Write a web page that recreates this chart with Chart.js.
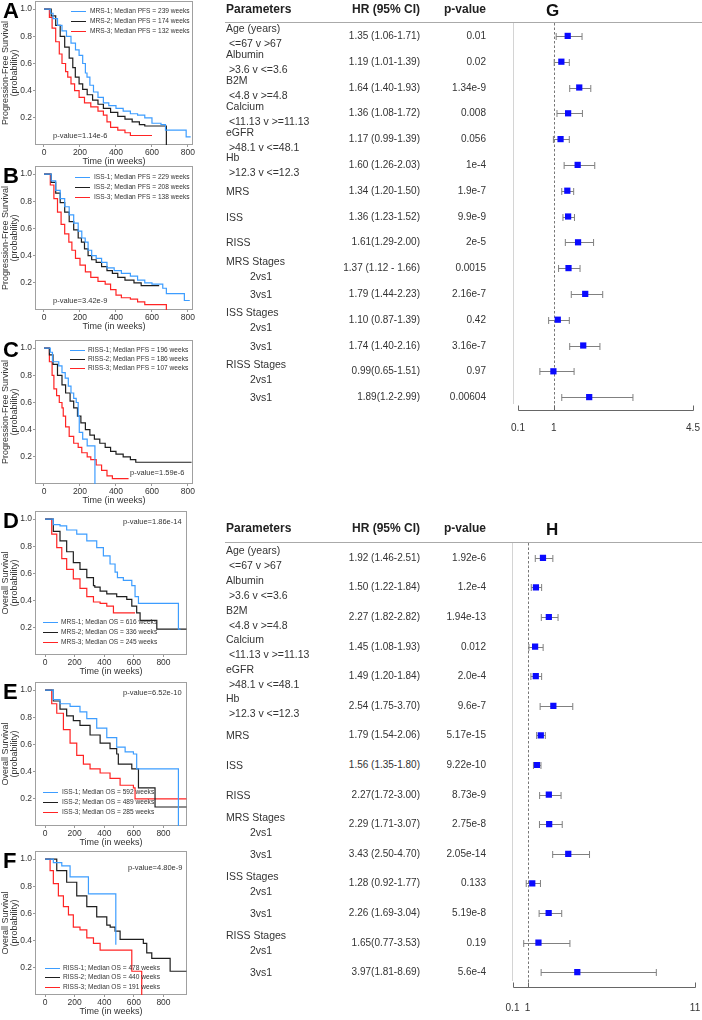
<!DOCTYPE html>
<html>
<head>
<meta charset="utf-8">
<title>Survival curves and hazard ratios</title>
<script src="https://cdn.jsdelivr.net/npm/chart.js@4.4.1/dist/chart.umd.min.js"></script>
<style>
  html, body { margin: 0; padding: 0; background: #fff; }
  body { position: relative; width: 702px; height: 1020px; overflow: hidden;
         font-family: "Liberation Sans", Arial, Helvetica, sans-serif; color: #222; }
  canvas { position: absolute; }
  .txt { position: absolute; white-space: nowrap; line-height: 1; transform: translateY(-50%); }
  .letter { font-size: 22px; font-weight: bold; color: #000; }
  .leg { font-size: 6.6px; color: #333; }
  .legline { position: absolute; width: 15px; height: 0; border-top: 1.3px solid; }
  .pval { font-size: 7.5px; color: #333; }
  .head { font-size: 12px; font-weight: bold; color: #222; }
  .cell { font-size: 10px; color: #333; }
  .name { font-size: 10.5px; color: #333; }
  .hline { position: absolute; height: 0; border-top: 1.5px solid #aaa; }
  .plabel { font-size: 17px; font-weight: bold; color: #111; }
</style>
</head>
<body>
<script>
// survival curves, [weeks, survival probability]
const pfsMRS1 = [[0,1],[25,1],[35,0.97],[50,0.93],[75,0.88],[100,0.84],[125,0.8],[150,0.75],[175,0.7],[195,0.66],[215,0.6],[230,0.53],[239,0.5],[255,0.44],[275,0.39],[300,0.35],[330,0.31],[360,0.29],[400,0.27],[440,0.25],[480,0.23],[520,0.22],[560,0.2],[600,0.16],[650,0.15],[675,0.11],[780,0.11],[790,0.06],[815,0.06]];
const pfsMRS2 = [[0,1],[20,1],[40,0.95],[65,0.88],[90,0.8],[115,0.72],[140,0.64],[160,0.57],[174,0.5],[195,0.45],[215,0.41],[240,0.37],[270,0.33],[300,0.3],[330,0.27],[370,0.24],[410,0.21],[450,0.19],[490,0.17],[530,0.15],[560,0.14],[680,0.14],[680,0]];
const pfsMRS3 = [[0,1],[15,1],[30,0.94],[45,0.86],[65,0.76],[85,0.67],[100,0.6],[120,0.54],[132,0.5],[150,0.45],[170,0.4],[195,0.35],[225,0.31],[260,0.28],[300,0.25],[330,0.22],[350,0.17],[370,0.13],[410,0.11],[450,0.09],[480,0.07],[600,0.07]];

const pfsISS1 = [[0,1],[20,1],[40,0.95],[65,0.88],[90,0.82],[115,0.76],[140,0.7],[165,0.64],[190,0.58],[210,0.53],[229,0.5],[245,0.44],[265,0.4],[290,0.38],[320,0.35],[350,0.31],[390,0.29],[430,0.27],[480,0.25],[520,0.22],[560,0.2],[600,0.19],[660,0.16],[680,0.12],[760,0.12],[780,0.07],[810,0.07]];
const pfsISS2 = [[0,1],[20,1],[40,0.94],[65,0.86],[90,0.79],[115,0.72],[140,0.65],[165,0.59],[190,0.53],[208,0.5],[225,0.45],[245,0.4],[265,0.37],[290,0.35],[320,0.32],[350,0.29],[380,0.27],[410,0.24],[450,0.22],[500,0.2],[540,0.18],[640,0.18]];
const pfsISS3 = [[0,1],[15,1],[35,0.92],[55,0.82],[75,0.72],[95,0.63],[115,0.56],[138,0.5],[155,0.44],[175,0.38],[200,0.33],[230,0.28],[260,0.24],[300,0.21],[340,0.19],[370,0.15],[400,0.11],[430,0.09],[480,0.08],[520,0.06],[560,0.04],[680,0.04],[680,0]];

const pfsRISS1 = [[0,1],[30,1],[35,0.97],[47,0.9],[82,0.87],[100,0.82],[118,0.78],[135,0.72],[150,0.67],[165,0.63],[179,0.6],[190,0.5],[196,0.38],[215,0.33],[240,0.28],[283,0.28],[283,0]];
const pfsRISS2 = [[0,1],[15,1],[30,0.95],[50,0.88],[75,0.8],[100,0.73],[120,0.67],[145,0.61],[165,0.56],[186,0.5],[205,0.45],[230,0.4],[255,0.36],[280,0.33],[310,0.3],[340,0.27],[370,0.24],[400,0.22],[440,0.2],[480,0.18],[510,0.16],[820,0.16]];
const pfsRISS3 = [[0,1],[12,1],[30,0.9],[45,0.8],[55,0.7],[70,0.65],[85,0.6],[100,0.56],[107,0.5],[120,0.42],[140,0.35],[165,0.3],[190,0.27],[210,0.23],[240,0.2],[260,0.18],[290,0.14],[320,0.1],[350,0.06],[380,0.04],[470,0.04]];

const osMRS1 = [[0,1],[10,1],[56,0.96],[101,0.95],[146,0.92],[214,0.89],[282,0.84],[349,0.79],[394,0.73],[439,0.67],[473,0.61],[489,0.57],[529,0.55],[586,0.51],[608,0.43],[631,0.38],[901,0.38],[901,0.19],[915,0.19]];
const osMRS2 = [[0,1],[10,1],[56,0.91],[101,0.84],[146,0.76],[191,0.68],[236,0.63],[282,0.57],[327,0.51],[336,0.5],[372,0.47],[417,0.45],[484,0.43],[552,0.41],[586,0.36],[619,0.31],[642,0.255],[755,0.255],[755,0.19],[955,0.19]];
const osMRS3 = [[0,1],[10,1],[45,0.89],[79,0.79],[113,0.71],[146,0.63],[191,0.56],[236,0.49],[282,0.43],[327,0.39],[372,0.38],[417,0.36],[462,0.31],[608,0.31]];

const osISS1 = [[0,1],[10,1],[56,0.93],[101,0.9],[169,0.88],[236,0.84],[282,0.79],[349,0.72],[417,0.65],[484,0.58],[541,0.545],[597,0.53],[619,0.42],[901,0.42],[901,0]];
const osISS2 = [[0,1],[10,1],[56,0.92],[101,0.86],[146,0.81],[191,0.775],[236,0.74],[304,0.67],[372,0.61],[439,0.57],[484,0.53],[495,0.455],[586,0.42],[631,0.28],[743,0.14],[955,0.14]];
const osISS3 = [[0,1],[10,1],[45,0.9],[79,0.83],[124,0.71],[169,0.61],[214,0.52],[259,0.455],[304,0.42],[372,0.39],[439,0.35],[507,0.3],[597,0.28],[608,0.2],[955,0.2]];

const osRISS1 = [[0,1],[10,1],[56,0.975],[113,0.95],[169,0.87],[293,0.745],[478,0.37]];
const osRISS2 = [[0,1],[10,1],[79,0.915],[146,0.83],[214,0.73],[282,0.65],[349,0.575],[417,0.515],[440,0.5],[473,0.47],[507,0.41],[664,0.38],[687,0.31],[721,0.27],[845,0.175],[955,0.175]];
const osRISS3 = [[0,1],[20,1],[34,0.915],[56,0.82],[90,0.73],[124,0.65],[158,0.59],[191,0.5],[236,0.48],[282,0.42],[327,0.38],[372,0.33],[586,0.175],[653,0.175],[653,0]];

const legendA = ['MRS-1; Median PFS = 239 weeks', 'MRS-2; Median PFS = 174 weeks', 'MRS-3; Median PFS = 132 weeks'];
const legendB = ['ISS-1; Median PFS = 229 weeks', 'ISS-2; Median PFS = 208 weeks', 'ISS-3; Median PFS = 138 weeks'];
const legendC = ['RISS-1; Median PFS = 196 weeks', 'RISS-2; Median PFS = 186 weeks', 'RISS-3; Median PFS = 107 weeks'];
const legendD = ['MRS-1; Median OS = 616 weeks', 'MRS-2; Median OS = 336 weeks', 'MRS-3; Median OS = 245 weeks'];
const legendE = ['ISS-1; Median OS = 592 weeks', 'ISS-2; Median OS = 489 weeks', 'ISS-3; Median OS = 285 weeks'];
const legendF = ['RISS-1; Median OS = 478 weeks', 'RISS-2; Median OS = 440 weeks', 'RISS-3; Median OS = 191 weeks'];
const logrankP = ['p-value=1.14e-6', 'p-value=3.42e-9', 'p-value=1.59e-6', 'p-value=1.86e-14', 'p-value=6.52e-10', 'p-value=4.80e-9'];

const survTicks = [0.2, 0.4, 0.6, 0.8, 1.0];
const weekTicks = [0, 200, 400, 600, 800];

// hazard ratios
const paramNames = ['Age (years)', 'Albumin', 'B2M', 'Calcium', 'eGFR', 'Hb', 'MRS', 'ISS', 'RISS', 'MRS Stages', '', 'ISS Stages', '', 'RISS Stages', ''];
const paramSubs = [' <=67 v >67', ' >3.6 v <=3.6', ' <4.8 v >=4.8', ' <11.13 v >=11.13', ' >48.1 v <=48.1', ' >12.3 v <=12.3', '', '', '', '2vs1', '3vs1', '2vs1', '3vs1', '2vs1', '3vs1'];

const hrG = [1.35, 1.19, 1.64, 1.36, 1.17, 1.60, 1.34, 1.36, 1.61, 1.37, 1.79, 1.10, 1.74, 0.99, 1.89];
const loG = [1.06, 1.01, 1.40, 1.08, 0.99, 1.26, 1.20, 1.23, 1.29, 1.12, 1.44, 0.87, 1.40, 0.65, 1.2];
const hiG = [1.71, 1.39, 1.93, 1.72, 1.39, 2.03, 1.50, 1.52, 2.00, 1.66, 2.23, 1.39, 2.16, 1.51, 2.99];
const hrTextG = ['1.35 (1.06-1.71)', '1.19 (1.01-1.39)', '1.64 (1.40-1.93)', '1.36 (1.08-1.72)', '1.17 (0.99-1.39)', '1.60 (1.26-2.03)', '1.34 (1.20-1.50)', '1.36 (1.23-1.52)', '1.61(1.29-2.00)', '1.37 (1.12 - 1.66)', '1.79 (1.44-2.23)', '1.10 (0.87-1.39)', '1.74 (1.40-2.16)', '0.99(0.65-1.51)', '1.89(1.2-2.99)'];
const pTextG = ['0.01', '0.02', '1.34e-9', '0.008', '0.056', '1e-4', '1.9e-7', '9.9e-9', '2e-5', '0.0015', '2.16e-7', '0.42', '3.16e-7', '0.97', '0.00604'];
const axisTicksG = [0.1, 1, 4.5];

const hrH = [1.92, 1.50, 2.27, 1.45, 1.49, 2.54, 1.79, 1.56, 2.27, 2.29, 3.43, 1.28, 2.26, 1.65, 3.97];
const loH = [1.46, 1.22, 1.82, 1.08, 1.20, 1.75, 1.54, 1.35, 1.72, 1.71, 2.50, 0.92, 1.69, 0.77, 1.81];
const hiH = [2.51, 1.84, 2.82, 1.93, 1.84, 3.70, 2.06, 1.80, 3.00, 3.07, 4.70, 1.77, 3.04, 3.53, 8.69];
const hrTextH = ['1.92 (1.46-2.51)', '1.50 (1.22-1.84)', '2.27 (1.82-2.82)', '1.45 (1.08-1.93)', '1.49 (1.20-1.84)', '2.54 (1.75-3.70)', '1.79 (1.54-2.06)', '1.56 (1.35-1.80)', '2.27(1.72-3.00)', '2.29 (1.71-3.07)', '3.43 (2.50-4.70)', '1.28 (0.92-1.77)', '2.26 (1.69-3.04)', '1.65(0.77-3.53)', '3.97(1.81-8.69)'];
const pTextH = ['1.92e-6', '1.2e-4', '1.94e-13', '0.012', '2.0e-4', '9.6e-7', '5.17e-15', '9.22e-10', '8.73e-9', '2.75e-8', '2.05e-14', '0.133', '5.19e-8', '0.19', '5.6e-4'];
const axisTicksH = [0.1, 1, 11];
const nullHR = 1;

const kmColors = ['#3d9dff', '#1e1e1e', '#ff2424'];

Chart.defaults.font.family = '"Liberation Sans", Arial, Helvetica, sans-serif';

function addText(cls, str, x, y, alignRight) {
  const d = document.createElement('div');
  d.className = 'txt ' + cls;
  d.textContent = str;
  if (alignRight) d.style.right = (702 - x) + 'px';
  else d.style.left = x + 'px';
  d.style.top = y + 'px';
  document.body.appendChild(d);
  return d;
}

const framePlugin = {
  id: 'frame',
  beforeDatasetsDraw(chart) {
    const { ctx, chartArea: a } = chart;
    ctx.save();
    ctx.strokeStyle = '#a0a0a0';
    ctx.lineWidth = 1;
    ctx.strokeRect(Math.round(a.left) + 0.5, Math.round(a.top) + 0.5, Math.round(a.right - a.left) - 1, Math.round(a.bottom - a.top) - 1);
    ctx.restore();
  }
};

function kmPanel(p) {
  const c = document.createElement('canvas');
  c.width = p.w;
  c.height = 170;
  c.style.left = '0px';
  c.style.top = p.top + 'px';
  document.body.appendChild(c);

  new Chart(c, {
    type: 'line',
    data: {
      datasets: p.curves.map((pts, i) => ({
        data: pts.map(q => ({ x: q[0], y: q[1] })),
        borderColor: kmColors[i],
        borderWidth: 1.2,
        pointRadius: 0,
        stepped: 'before',
        fill: false
      }))
    },
    options: {
      responsive: false,
      animation: false,
      layout: { padding: { top: 2, right: p.w - p.right, left: 0, bottom: 0 } },
      plugins: { legend: { display: false }, tooltip: { enabled: false } },
      scales: {
        x: {
          type: 'linear', min: p.xr[0], max: p.xr[1],
          afterBuildTicks: a => { a.ticks = weekTicks.map(v => ({ value: v })); },
          afterFit: a => { a.height = 24; a.paddingLeft = 0; a.paddingRight = 0; },
          ticks: { font: { size: 8.5 }, color: '#333', padding: 1, maxRotation: 0, autoSkip: false },
          grid: { display: true, drawOnChartArea: false, tickLength: 2, color: '#999' },
          border: { display: false },
          title: { display: true, text: 'Time (in weeks)', font: { size: 9 }, color: '#333', padding: { top: 0, bottom: 2 } }
        },
        y: {
          min: 0, max: 1.06,
          afterBuildTicks: a => { a.ticks = survTicks.map(v => ({ value: v })); },
          afterFit: a => { a.width = 35; a.paddingTop = 0; a.paddingBottom = 0; },
          ticks: { font: { size: 8.5 }, color: '#333', padding: 1, autoSkip: false, callback: v => v.toFixed(1) },
          grid: { display: true, drawOnChartArea: false, tickLength: 2, color: '#999' },
          border: { display: false },
          title: { display: true, text: p.ytitle, font: { size: 9, lineHeight: 1.0 }, color: '#333', padding: { top: 1, bottom: 0 } }
        }
      }
    },
    plugins: [framePlugin]
  });

  addText('letter', p.letter, 3, p.top + 12);
  p.names.forEach((n, i) => {
    const y = p.top + p.leg.y[i];
    const l = document.createElement('div');
    l.className = 'legline';
    l.style.left = p.leg.lx + 'px';
    l.style.top = y + 'px';
    l.style.borderTopColor = kmColors[i];
    document.body.appendChild(l);
    addText('leg', n, p.leg.tx, y);
  });
  addText('pval', p.pv.text, p.pv.x, p.top + p.pv.y);
}

const pfsTitle = ['Progression-Free Survival', '(probability)'];
const osTitle = ['Overall Survival', '(probability)'];

kmPanel({ letter: 'A', top: -1, w: 201, right: 193, xr: [-50, 828], ytitle: pfsTitle, curves: [pfsMRS1, pfsMRS2, pfsMRS3], names: legendA,
  leg: { lx: 71, tx: 90, y: [12, 22, 32] }, pv: { text: logrankP[0], x: 53, y: 137 } });
kmPanel({ letter: 'B', top: 164, w: 201, right: 193, xr: [-50, 828], ytitle: pfsTitle, curves: [pfsISS1, pfsISS2, pfsISS3], names: legendB,
  leg: { lx: 75, tx: 94, y: [13, 23, 33] }, pv: { text: logrankP[1], x: 53, y: 137 } });
kmPanel({ letter: 'C', top: 338, w: 201, right: 193, xr: [-50, 828], ytitle: pfsTitle, curves: [pfsRISS1, pfsRISS2, pfsRISS3], names: legendC,
  leg: { lx: 70, tx: 88, y: [12, 21, 30] }, pv: { text: logrankP[2], x: 130, y: 135 } });
kmPanel({ letter: 'D', top: 509, w: 195, right: 187, xr: [-68, 959], ytitle: osTitle, curves: [osMRS1, osMRS2, osMRS3], names: legendD,
  leg: { lx: 43, tx: 61, y: [113, 123, 133] }, pv: { text: logrankP[3], x: 123, y: 13 } });
kmPanel({ letter: 'E', top: 680, w: 195, right: 187, xr: [-68, 959], ytitle: osTitle, curves: [osISS1, osISS2, osISS3], names: legendE,
  leg: { lx: 43, tx: 62, y: [112, 122, 132] }, pv: { text: logrankP[4], x: 123, y: 13 } });
kmPanel({ letter: 'F', top: 849, w: 195, right: 187, xr: [-68, 959], ytitle: osTitle, curves: [osRISS1, osRISS2, osRISS3], names: legendF,
  leg: { lx: 45, tx: 63, y: [119, 128, 138] }, pv: { text: logrankP[5], x: 128, y: 19 } });

// forest plots
const forestDecor = o => ({
  id: 'forestDecor',
  beforeDatasetsDraw(chart) {
    const { ctx, chartArea: a, scales: { x, y } } = chart;
    ctx.save();
    ctx.lineWidth = 1;
    ctx.strokeStyle = '#d4d4d4';
    const gx = Math.round(a.left - o.gutter) + 0.5;
    ctx.beginPath(); ctx.moveTo(gx, a.top); ctx.lineTo(gx, a.bottom - 6); ctx.stroke();

    const nx = Math.round(x.getPixelForValue(nullHR)) + 0.5;
    ctx.strokeStyle = '#777';
    ctx.setLineDash([2.5, 2]);
    ctx.beginPath(); ctx.moveTo(nx, a.top); ctx.lineTo(nx, a.bottom); ctx.stroke();
    ctx.setLineDash([]);

    ctx.strokeStyle = '#666';
    const xs = o.ticks.map(v => Math.round(x.getPixelForValue(v)) + 0.5);
    const by = Math.round(a.bottom) + 0.5;
    ctx.beginPath();
    ctx.moveTo(xs[0], by); ctx.lineTo(xs[xs.length - 1], by);
    xs.forEach(px => { ctx.moveTo(px, by); ctx.lineTo(px, by - 5); });
    ctx.stroke();

    ctx.strokeStyle = '#808080';
    o.lo.forEach((l, i) => {
      const yy = Math.round(y.getPixelForValue(i)) + 0.5;
      const x1 = x.getPixelForValue(l), x2 = x.getPixelForValue(o.hi[i]);
      ctx.beginPath();
      ctx.moveTo(x1, yy); ctx.lineTo(x2, yy);
      ctx.moveTo(x1, yy - 3.5); ctx.lineTo(x1, yy + 3.5);
      ctx.moveTo(x2, yy - 3.5); ctx.lineTo(x2, yy + 3.5);
      ctx.stroke();
    });
    ctx.restore();
  }
});

function forestPanel(o) {
  const c = document.createElement('canvas');
  c.width = 222;
  c.height = o.h;
  c.style.left = '480px';
  c.style.top = o.top + 'px';
  document.body.appendChild(c);

  const chart = new Chart(c, {
    type: 'scatter',
    data: { datasets: [{ data: o.hr.map((v, i) => ({ x: v, y: i })), pointStyle: 'rect', pointRadius: 4.4,
      backgroundColor: '#0a0aff', borderColor: '#0a0aff', borderWidth: 0 }] },
    options: {
      responsive: false,
      animation: false,
      layout: { padding: { top: o.padTop, left: o.padLeft, right: o.padRight, bottom: 0 } },
      plugins: { legend: { display: false }, tooltip: { enabled: false } },
      scales: {
        x: {
          type: 'linear', min: o.ticks[0], max: o.ticks[o.ticks.length - 1],
          afterBuildTicks: a => { a.ticks = o.ticks.map(v => ({ value: v })); },
          afterFit: a => { a.height = o.axisH; a.paddingLeft = 0; a.paddingRight = 0; },
          ticks: { font: { size: 10 }, color: '#333', padding: o.tickPad, maxRotation: 0, autoSkip: false, callback: v => String(v) },
          grid: { display: false },
          border: { display: false }
        },
        y: { type: 'linear', min: -0.5, max: o.hr.length - 0.5, reverse: true, display: false }
      }
    },
    plugins: [forestDecor(o)]
  });

  // table next to the plot
  const a = chart.chartArea;
  const ys = chart.scales.y;
  const headLine = o.top + a.top;
  const hy = headLine - o.headGap;
  addText('head', 'Parameters', 226, hy);
  addText('head', 'HR (95% CI)', 420, hy, true);
  addText('head', 'p-value', 486, hy, true);
  addText('plabel', o.letter, 546, hy + 1);
  const hl = document.createElement('div');
  hl.className = 'hline';
  hl.style.left = '225px';
  hl.style.width = '477px';
  hl.style.top = (headLine - 1) + 'px';
  document.body.appendChild(hl);

  o.hr.forEach((v, i) => {
    const y = o.top + ys.getPixelForValue(i);
    const nm = paramNames[i], sb = paramSubs[i];
    const subX = sb.indexOf('vs') >= 0 ? 250 : 226;
    if (nm && sb) {
      addText('name', nm, 226, y - 7.5);
      addText('name', sb, subX, y + 7.5).style.whiteSpace = 'pre';
    } else if (nm) {
      addText('name', nm, 226, y);
    } else {
      addText('name', sb, subX, y);
    }
    addText('cell', o.hrText[i], 420, y, true);
    addText('cell', o.pText[i], 486, y, true);
  });
}

forestPanel({ letter: 'G', top: 0, h: 443, padTop: 23, axisH: 33, padLeft: 38, padRight: 9, gutter: 5, headGap: 14, tickPad: 4,
  hr: hrG, lo: loG, hi: hiG, hrText: hrTextG, pText: pTextG, ticks: axisTicksG });
forestPanel({ letter: 'H', top: 520, h: 500, padTop: 23, axisH: 33, padLeft: 32.5, padRight: 7, gutter: 1, headGap: 15, tickPad: 7,
  hr: hrH, lo: loH, hi: hiH, hrText: hrTextH, pText: pTextH, ticks: axisTicksH });
</script>
</body>
</html>
